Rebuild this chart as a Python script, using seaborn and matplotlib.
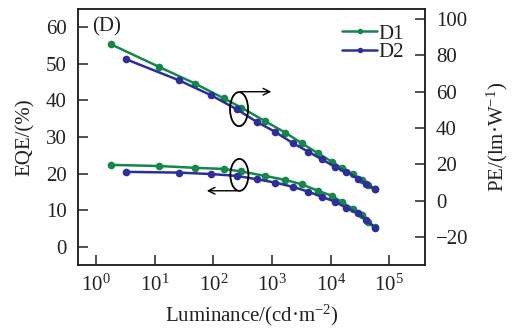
import numpy as np
import pandas as pd
import matplotlib
matplotlib.use("Agg")
import matplotlib.pyplot as plt
import seaborn as sns
from matplotlib.patches import Ellipse
from matplotlib.lines import Line2D
from matplotlib.ticker import FixedLocator, NullLocator

# ---- data ----
d1_lum = [1.8, 11.7, 49, 151, 302, 759, 1700, 3240, 6170, 10500, 15800, 24000, 33900, 43600, 56200]
d1_eqe = [22.4, 22.1, 21.6, 21.3, 20.6, 19.4, 18.3, 17.1, 15.3, 14.0, 12.2, 10.4, 8.7, 6.9, 5.5]
d1_pe = [86.0, 73.7, 64.4, 56.3, 51.2, 43.8, 37.4, 31.6, 26.0, 21.5, 17.8, 14.8, 11.5, 8.8, 6.6]

d2_lum = [3.3, 25.7, 93, 251, 550, 1120, 2290, 4170, 7080, 11700, 18600, 29500, 40700, 56200]
d2_eqe = [20.5, 20.3, 19.9, 19.4, 18.5, 17.6, 16.4, 15.1, 13.7, 12.4, 10.7, 9.2, 7.4, 5.3]
d2_pe = [77.7, 66.3, 57.9, 50.3, 43.4, 38.0, 31.6, 27.0, 22.8, 18.8, 15.9, 12.1, 9.0, 6.3]

devices = ["D1", "D2"]
colors = {"D1": "#13884a", "D2": "#2d2e98"}
left_ticks = [0, 10, 20, 30, 40, 50, 60]
right_ticks = [-20, 0, 20, 40, 60, 80, 100]
x_ticks = [1e0, 1e1, 1e2, 1e3, 1e4, 1e5]

df = pd.concat([
    pd.DataFrame({"Luminance": d1_lum, "EQE": d1_eqe, "PE": d1_pe, "Device": "D1"}),
    pd.DataFrame({"Luminance": d2_lum, "EQE": d2_eqe, "PE": d2_pe, "Device": "D2"}),
], ignore_index=True)

# ---- style ----
sns.set_style("ticks")
plt.rcParams["font.family"] = ["Liberation Serif", "DejaVu Serif"]
plt.rcParams["mathtext.fontset"] = "custom"
plt.rcParams["mathtext.rm"] = "Liberation Serif"
plt.rcParams["mathtext.it"] = "Liberation Serif:italic"
plt.rcParams["mathtext.bf"] = "Liberation Serif:bold"
plt.rcParams["mathtext.default"] = "regular"
plt.rcParams["text.color"] = "#222222"
plt.rcParams["axes.labelcolor"] = "#222222"
plt.rcParams["xtick.labelcolor"] = "#222222"
plt.rcParams["ytick.labelcolor"] = "#222222"

FS = 15
fig = plt.figure(figsize=(5.17, 3.29), dpi=100)
ax = fig.add_axes([0.151, 0.1945, 0.671, 0.778])
ax.set_xscale("log")
ax2 = ax.twinx()

sns.lineplot(data=df, x="Luminance", y="EQE", hue="Device", palette=colors,
             marker="o", markersize=5.5, markeredgewidth=0, linewidth=1.8,
             ax=ax, legend=False, sort=False)
sns.lineplot(data=df, x="Luminance", y="PE", hue="Device", palette=colors,
             marker="o", markersize=5.5, markeredgewidth=0, linewidth=1.8,
             ax=ax2, legend=False, sort=False)

ax.set_xlim(10 ** -0.307, 10 ** 5.61)
ax.set_ylim(-4.9, 64.9)
ax2.set_ylim(-35.3, 105.4)
ax.xaxis.set_major_locator(FixedLocator(x_ticks))
ax.xaxis.set_minor_locator(NullLocator())
ax.yaxis.set_major_locator(FixedLocator(left_ticks))
ax2.yaxis.set_major_locator(FixedLocator(right_ticks))

for a in (ax, ax2):
    a.tick_params(direction="in", length=7, width=1.1, labelsize=FS, color="#222222", pad=8)
    for s in a.spines.values():
        s.set_linewidth(1.1)
        s.set_color("#222222")
ax.tick_params(axis="x", pad=7)

ax.set_xlabel("Luminance/(cd·m$^{-2}$)", fontsize=FS, labelpad=5)
ax.set_ylabel("EQE/(%)", fontsize=FS, labelpad=8)
ax2.set_ylabel("PE/(lm·W$^{-1}$)", fontsize=FS, labelpad=12)

# ---- annotations ----
ax.text(0.040, 0.93, "(D)", transform=ax.transAxes, fontsize=FS, va="center", ha="left")
for (cx, cy, h) in [(0.464, 0.609, 0.133), (0.465, 0.352, 0.125)]:
    ax.add_patch(Ellipse((cx, cy), 0.052, h, transform=ax.transAxes,
                         fill=False, edgecolor="black", linewidth=1.3, zorder=5))
ax.annotate("", xy=(0.565, 0.677), xytext=(0.461, 0.677), xycoords="axes fraction",
            arrowprops=dict(arrowstyle="->", color="black", lw=1.0, mutation_scale=12))
ax.annotate("", xy=(0.363, 0.290), xytext=(0.467, 0.290), xycoords="axes fraction",
            arrowprops=dict(arrowstyle="->", color="black", lw=1.0, mutation_scale=12))

handles = [Line2D([], [], color=colors[d], marker="o", markersize=4, markeredgewidth=0,
                  linewidth=1.8) for d in devices]
ax2.legend(handles, devices, loc="upper right", bbox_to_anchor=(0.975, 0.99), frameon=False,
           fontsize=FS, handlelength=1.7, handletextpad=0.05, labelspacing=-0.05,
           borderaxespad=0.2)

ax.set_zorder(ax2.get_zorder() + 1)
ax.patch.set_visible(False)

fig.savefig("out.png", dpi=100)
